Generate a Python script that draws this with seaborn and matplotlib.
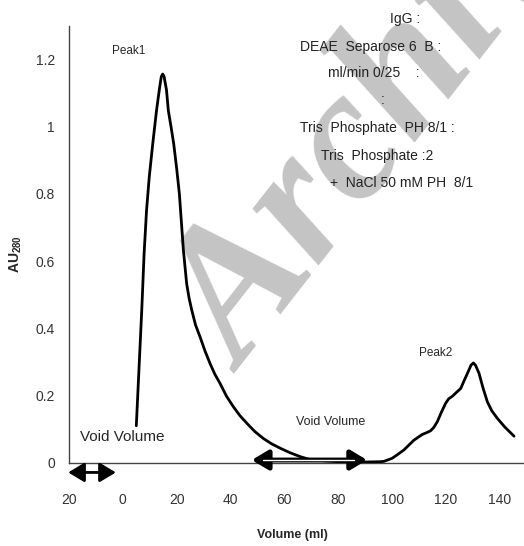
import matplotlib
matplotlib.use("Agg")
import matplotlib.pyplot as plt
import seaborn as sns

# chromatogram (volume in ml, absorbance at 280 nm)
volume = [5.0, 6.0, 7.0, 7.9, 8.8, 9.8, 11.1, 12.5, 13.2, 13.9, 14.3, 14.8, 15.3,
          16.2, 16.9, 17.9, 18.9, 20.0, 21.0, 21.8, 22.5, 23.7, 24.6, 25.6, 27.0,
          28.7, 30.5, 32.4, 34.2, 36.1, 38.5, 41.1, 43.5, 46.1, 49.0, 52.2, 55.3,
          58.5, 62.0, 65.9, 70.0, 80.0, 90.0, 95.7, 97.0, 100.0, 102.0, 104.4,
          108.1, 111.2, 113.0, 114.3, 115.5, 116.8, 118.3, 119.9, 121.0, 122.4,
          124.0, 125.5, 126.8, 128.0, 129.3, 130.2, 131.0, 132.3, 133.8, 135.4,
          137.0, 139.1, 142.0, 145.3]
absorbance = [0.11, 0.28, 0.45, 0.623, 0.751, 0.85, 0.949, 1.048, 1.09, 1.13, 1.15,
              1.157, 1.15, 1.11, 1.048, 1.0, 0.949, 0.875, 0.80, 0.71, 0.632, 0.533,
              0.49, 0.454, 0.41, 0.374, 0.333, 0.295, 0.263, 0.236, 0.198, 0.166,
              0.14, 0.117, 0.093, 0.072, 0.056, 0.043, 0.03, 0.018, 0.008, 0.003,
              0.002, 0.003, 0.004, 0.013, 0.024, 0.038, 0.067, 0.084, 0.09, 0.095,
              0.105, 0.122, 0.15, 0.177, 0.19, 0.198, 0.21, 0.221, 0.245, 0.266,
              0.29, 0.297, 0.29, 0.266, 0.222, 0.181, 0.155, 0.132, 0.105, 0.079]

x_ticks = [-20, 0, 20, 40, 60, 80, 100, 120, 140]
x_tick_labels = ["20", "0", "20", "40", "60", "80", "100", "120", "140"]
y_ticks = [0, 0.2, 0.4, 0.6, 0.8, 1.0, 1.2]
y_tick_labels = ["0", "0.2", "0.4", "0.6", "0.8", "1", "1.2"]

info_lines = ["IgG :", "DEAE  Separose 6  B :", "ml/min 0/25    :", ":",
              "Tris  Phosphate  PH 8/1 :", "Tris  Phosphate :2", "+  NaCl 50 mM PH  8/1"]

sns.set_style("white")
plt.rcParams["font.family"] = ["Liberation Sans", "DejaVu Sans"]
plt.rcParams["mathtext.fontset"] = "custom"
plt.rcParams["mathtext.bf"] = "Liberation Sans:bold"
plt.rcParams["mathtext.rm"] = "Liberation Sans"

W, H = 524, 546
fig = plt.figure(figsize=(W / 100, H / 100), dpi=100)
ax = fig.add_axes([69 / W, (H - 462.7) / H, (W - 69) / W, (462.7 - 26) / H])


def px(x, y):
    return x / W, 1 - y / H


# watermark behind the curve
ax.text(*px(244, 374), "Archive", transform=fig.transFigure, rotation=52,
        rotation_mode="anchor", ha="left", va="baseline", fontsize=135,
        family="Liberation Serif", weight="bold", style="italic",
        color="#c4c4c4", zorder=0.5, clip_on=False)

sns.lineplot(x=volume, y=absorbance, color="black", lw=2, ax=ax, zorder=3,
             solid_joinstyle="round")

ax.set_xlim(-20, 149)
ax.set_ylim(0, 1.3)
ax.set_xticks(x_ticks)
ax.set_xticklabels(x_tick_labels)
ax.set_yticks(y_ticks)
ax.set_yticklabels(y_tick_labels)
ax.tick_params(axis="x", direction="out", length=5, width=1, pad=17, labelsize=10,
               labelcolor="#333333", color="#444444")
ax.tick_params(axis="y", direction="out", length=4, width=1, pad=6, labelsize=10,
               labelcolor="#333333", color="#444444")
sns.despine(ax=ax)
for side in ["left", "bottom"]:
    ax.spines[side].set_color("#444444")
    ax.spines[side].set_linewidth(1)

ax.set_xlabel("")
ax.set_ylabel("")
fig.text(*px(292, 535), "Volume (ml)", ha="center", va="center", fontsize=9,
         weight="bold")
fig.text(*px(16, 254), r"$\mathbf{AU}_{\mathbf{280}}$", ha="center", va="center",
         fontsize=10, rotation=90)

# peak labels and void volume markers
ax.text(*px(112, 51), "Peak1", transform=fig.transFigure, ha="left", va="center",
        fontsize=8.5, zorder=4)
ax.text(*px(419, 353), "Peak2", transform=fig.transFigure, ha="left", va="center",
        fontsize=8.5, zorder=4)
ax.text(*px(80, 437), "Void Volume", transform=fig.transFigure, ha="left",
        va="center", fontsize=11, zorder=4)
ax.text(*px(296, 422), "Void Volume", transform=fig.transFigure, ha="left",
        va="center", fontsize=9, zorder=4)

ax.annotate("", xy=(-20.3, -0.029), xytext=(-2.6, -0.029), annotation_clip=False,
            arrowprops=dict(arrowstyle="<|-|>,head_length=0.7,head_width=0.42",
                            mutation_scale=14, color="black", lw=2,
                            shrinkA=0, shrinkB=0, clip_on=False))
ax.annotate("", xy=(47.9, 0.008), xytext=(90.7, 0.008), annotation_clip=False,
            arrowprops=dict(arrowstyle="<|-|>,head_length=0.7,head_width=0.42",
                            mutation_scale=14, color="black", lw=3.5,
                            shrinkA=0, shrinkB=0), zorder=4)
ax.plot([52, 86], [0.008, 0.008], color="white", lw=1.0, zorder=5)

# run conditions block
info_pos = [(405, 19), (371, 47), (374, 73), (383, 100), (377, 128), (377, 156),
            (402, 183)]
for (cx, cy), line in zip(info_pos, info_lines):
    ax.text(*px(cx, cy), line, transform=fig.transFigure, ha="center", va="center",
            fontsize=10, color="#222222", zorder=4)

fig.savefig("out.png", dpi=100)
